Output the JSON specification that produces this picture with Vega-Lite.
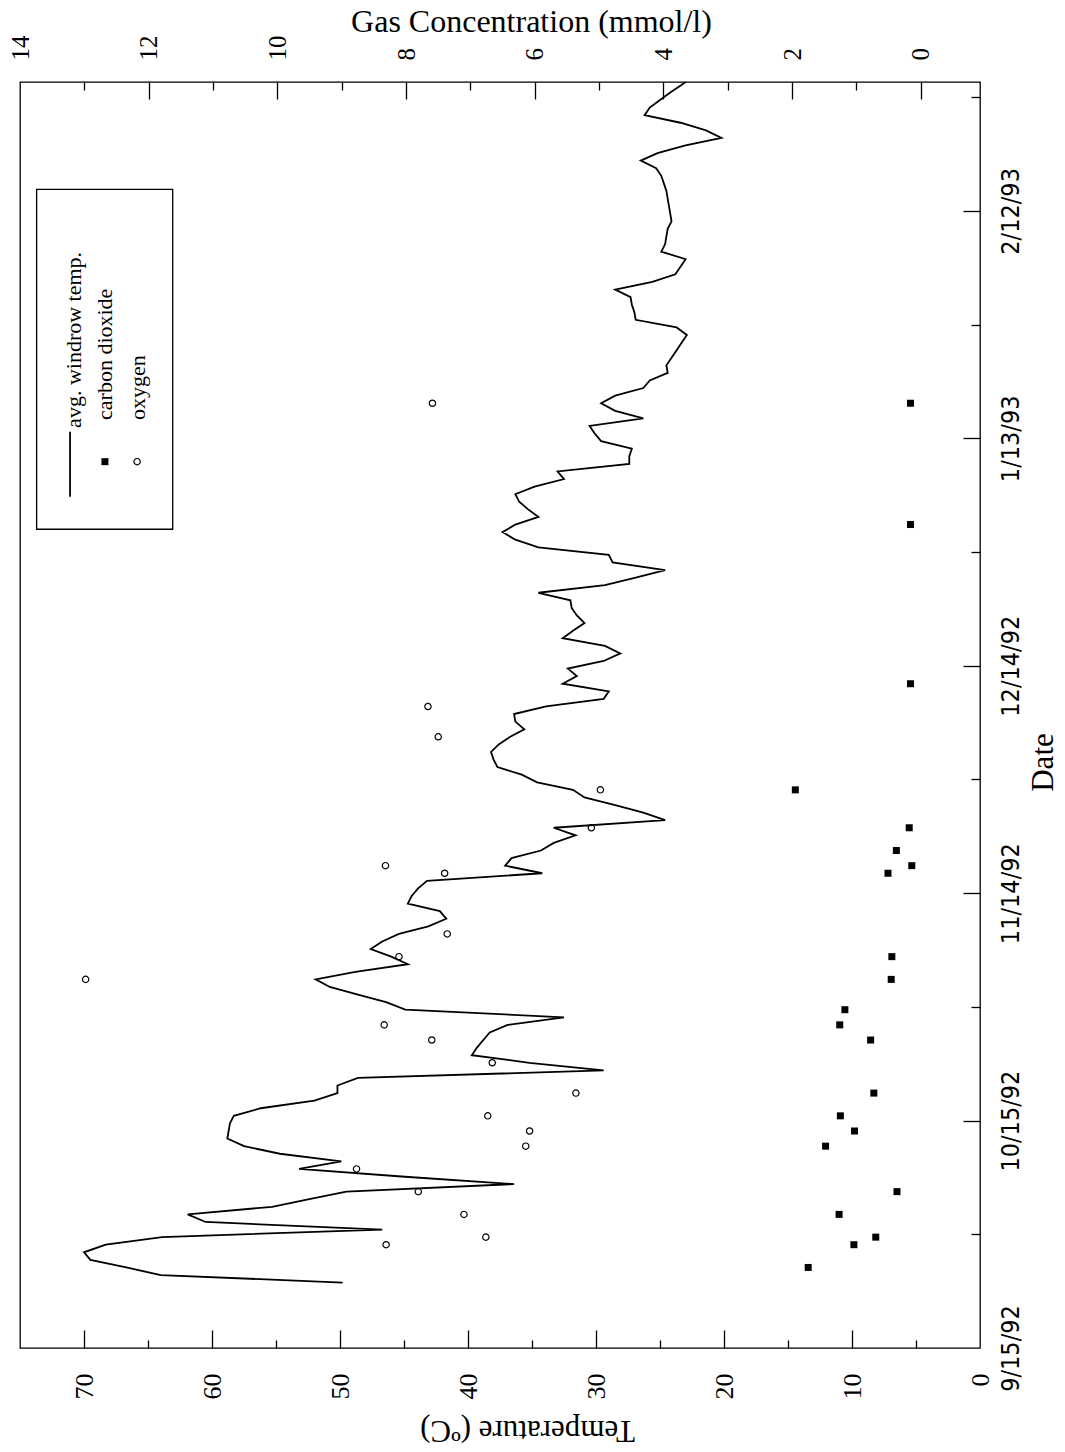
{
  "$schema": "https://vega.github.io/schema/vega-lite/v6.json",
  "width": 960,
  "height": 1266,
  "autosize": {"type": "none"},
  "padding": {"left": 20, "top": 82, "right": 85, "bottom": 104},
  "background": "white",
  "config": {
    "view": {"stroke": "black", "strokeWidth": 1.3},
    "axis": {
      "domain": false,
      "grid": false,
      "labelColor": "black",
      "tickColor": "black",
      "tickWidth": 1.3,
      "titleColor": "black",
      "titleFontWeight": "normal",
      "labelOverlap": false,
      "labelFlush": false,
      "labelBound": false
    }
  },
  "datasets": {
    "temperature": [
      {"date": "1992-09-23T15:00Z", "temp": 49.8},
      {"date": "1992-09-24T15:00Z", "temp": 64.0},
      {"date": "1992-09-25T15:00Z", "temp": 66.7},
      {"date": "1992-09-26T15:00Z", "temp": 69.5},
      {"date": "1992-09-27T15:00Z", "temp": 70.0},
      {"date": "1992-09-28T15:00Z", "temp": 68.3},
      {"date": "1992-09-29T15:00Z", "temp": 63.9},
      {"date": "1992-09-30T15:00Z", "temp": 46.7},
      {"date": "1992-10-01T15:00Z", "temp": 60.5},
      {"date": "1992-10-02T15:00Z", "temp": 61.9},
      {"date": "1992-10-03T15:00Z", "temp": 55.3},
      {"date": "1992-10-04T15:00Z", "temp": 52.4},
      {"date": "1992-10-05T15:00Z", "temp": 49.5},
      {"date": "1992-10-06T15:00Z", "temp": 36.4},
      {"date": "1992-10-07T15:00Z", "temp": 45.2},
      {"date": "1992-10-08T15:00Z", "temp": 53.2},
      {"date": "1992-10-09T15:00Z", "temp": 49.9},
      {"date": "1992-10-10T15:00Z", "temp": 54.7},
      {"date": "1992-10-11T15:00Z", "temp": 57.5},
      {"date": "1992-10-12T15:00Z", "temp": 58.8},
      {"date": "1992-10-13T15:00Z", "temp": 58.7},
      {"date": "1992-10-14T15:00Z", "temp": 58.6},
      {"date": "1992-10-15T15:00Z", "temp": 58.3},
      {"date": "1992-10-16T15:00Z", "temp": 56.2},
      {"date": "1992-10-17T15:00Z", "temp": 52.0},
      {"date": "1992-10-18T15:00Z", "temp": 50.2},
      {"date": "1992-10-19T15:00Z", "temp": 50.2},
      {"date": "1992-10-20T15:00Z", "temp": 48.6},
      {"date": "1992-10-21T15:00Z", "temp": 29.4},
      {"date": "1992-10-22T15:00Z", "temp": 35.2},
      {"date": "1992-10-23T15:00Z", "temp": 39.7},
      {"date": "1992-10-24T15:00Z", "temp": 39.3},
      {"date": "1992-10-25T15:00Z", "temp": 38.8},
      {"date": "1992-10-26T15:00Z", "temp": 38.3},
      {"date": "1992-10-27T15:00Z", "temp": 36.9},
      {"date": "1992-10-28T15:00Z", "temp": 32.5},
      {"date": "1992-10-29T15:00Z", "temp": 44.9},
      {"date": "1992-10-30T15:00Z", "temp": 46.4},
      {"date": "1992-10-31T15:00Z", "temp": 48.6},
      {"date": "1992-11-01T15:00Z", "temp": 50.8},
      {"date": "1992-11-02T15:00Z", "temp": 51.9},
      {"date": "1992-11-03T15:00Z", "temp": 48.8},
      {"date": "1992-11-04T15:00Z", "temp": 44.7},
      {"date": "1992-11-05T15:00Z", "temp": 46.0},
      {"date": "1992-11-06T15:00Z", "temp": 47.6},
      {"date": "1992-11-07T15:00Z", "temp": 46.7},
      {"date": "1992-11-08T15:00Z", "temp": 45.4},
      {"date": "1992-11-09T15:00Z", "temp": 43.1},
      {"date": "1992-11-10T15:00Z", "temp": 41.7},
      {"date": "1992-11-11T15:00Z", "temp": 42.2},
      {"date": "1992-11-12T15:00Z", "temp": 44.7},
      {"date": "1992-11-13T15:00Z", "temp": 44.4},
      {"date": "1992-11-14T15:00Z", "temp": 43.9},
      {"date": "1992-11-15T15:00Z", "temp": 43.2},
      {"date": "1992-11-16T15:00Z", "temp": 34.2},
      {"date": "1992-11-17T15:00Z", "temp": 37.1},
      {"date": "1992-11-18T15:00Z", "temp": 36.6},
      {"date": "1992-11-19T15:00Z", "temp": 34.3},
      {"date": "1992-11-20T15:00Z", "temp": 33.3},
      {"date": "1992-11-21T15:00Z", "temp": 31.6},
      {"date": "1992-11-22T15:00Z", "temp": 33.3},
      {"date": "1992-11-23T15:00Z", "temp": 24.6},
      {"date": "1992-11-24T15:00Z", "temp": 26.3},
      {"date": "1992-11-25T15:00Z", "temp": 28.5},
      {"date": "1992-11-26T15:00Z", "temp": 30.9},
      {"date": "1992-11-27T15:00Z", "temp": 31.8},
      {"date": "1992-11-28T15:00Z", "temp": 34.6},
      {"date": "1992-11-29T15:00Z", "temp": 35.8},
      {"date": "1992-11-30T15:00Z", "temp": 37.7},
      {"date": "1992-12-01T15:00Z", "temp": 38.0},
      {"date": "1992-12-02T15:00Z", "temp": 38.2},
      {"date": "1992-12-03T15:00Z", "temp": 37.6},
      {"date": "1992-12-04T15:00Z", "temp": 36.7},
      {"date": "1992-12-05T15:00Z", "temp": 35.6},
      {"date": "1992-12-06T15:00Z", "temp": 36.3},
      {"date": "1992-12-07T15:00Z", "temp": 36.4},
      {"date": "1992-12-08T15:00Z", "temp": 33.9},
      {"date": "1992-12-09T15:00Z", "temp": 29.4},
      {"date": "1992-12-10T15:00Z", "temp": 29.0},
      {"date": "1992-12-11T15:00Z", "temp": 32.6},
      {"date": "1992-12-12T15:00Z", "temp": 31.5},
      {"date": "1992-12-13T15:00Z", "temp": 32.2},
      {"date": "1992-12-14T15:00Z", "temp": 29.4},
      {"date": "1992-12-15T15:00Z", "temp": 28.1},
      {"date": "1992-12-16T15:00Z", "temp": 29.3},
      {"date": "1992-12-17T15:00Z", "temp": 32.6},
      {"date": "1992-12-18T15:00Z", "temp": 31.8},
      {"date": "1992-12-19T15:00Z", "temp": 30.9},
      {"date": "1992-12-20T15:00Z", "temp": 31.5},
      {"date": "1992-12-21T15:00Z", "temp": 31.9},
      {"date": "1992-12-22T15:00Z", "temp": 32.0},
      {"date": "1992-12-23T15:00Z", "temp": 34.5},
      {"date": "1992-12-24T15:00Z", "temp": 29.3},
      {"date": "1992-12-25T15:00Z", "temp": 26.9},
      {"date": "1992-12-26T15:00Z", "temp": 24.6},
      {"date": "1992-12-27T15:00Z", "temp": 28.7},
      {"date": "1992-12-28T15:00Z", "temp": 29.0},
      {"date": "1992-12-29T15:00Z", "temp": 34.5},
      {"date": "1992-12-30T15:00Z", "temp": 36.3},
      {"date": "1992-12-31T15:00Z", "temp": 37.3},
      {"date": "1993-01-01T15:00Z", "temp": 36.3},
      {"date": "1993-01-02T15:00Z", "temp": 34.5},
      {"date": "1993-01-03T15:00Z", "temp": 35.3},
      {"date": "1993-01-04T15:00Z", "temp": 36.0},
      {"date": "1993-01-05T15:00Z", "temp": 36.3},
      {"date": "1993-01-06T15:00Z", "temp": 34.8},
      {"date": "1993-01-07T15:00Z", "temp": 32.5},
      {"date": "1993-01-08T15:00Z", "temp": 33.0},
      {"date": "1993-01-09T15:00Z", "temp": 27.4},
      {"date": "1993-01-10T15:00Z", "temp": 27.4},
      {"date": "1993-01-11T15:00Z", "temp": 27.2},
      {"date": "1993-01-12T15:00Z", "temp": 29.6},
      {"date": "1993-01-13T15:00Z", "temp": 30.1},
      {"date": "1993-01-14T15:00Z", "temp": 30.5},
      {"date": "1993-01-15T15:00Z", "temp": 26.3},
      {"date": "1993-01-16T15:00Z", "temp": 28.5},
      {"date": "1993-01-17T15:00Z", "temp": 29.6},
      {"date": "1993-01-18T15:00Z", "temp": 28.5},
      {"date": "1993-01-19T15:00Z", "temp": 26.3},
      {"date": "1993-01-20T15:00Z", "temp": 25.8},
      {"date": "1993-01-21T15:00Z", "temp": 24.4},
      {"date": "1993-01-22T15:00Z", "temp": 24.5},
      {"date": "1993-01-23T15:00Z", "temp": 24.1},
      {"date": "1993-01-24T15:00Z", "temp": 23.7},
      {"date": "1993-01-25T15:00Z", "temp": 23.3},
      {"date": "1993-01-26T15:00Z", "temp": 22.9},
      {"date": "1993-01-27T15:00Z", "temp": 23.7},
      {"date": "1993-01-28T15:00Z", "temp": 26.9},
      {"date": "1993-01-29T15:00Z", "temp": 27.0},
      {"date": "1993-01-30T15:00Z", "temp": 27.2},
      {"date": "1993-01-31T15:00Z", "temp": 27.3},
      {"date": "1993-02-01T15:00Z", "temp": 28.5},
      {"date": "1993-02-02T15:00Z", "temp": 25.6},
      {"date": "1993-02-03T15:00Z", "temp": 23.8},
      {"date": "1993-02-04T15:00Z", "temp": 23.4},
      {"date": "1993-02-05T15:00Z", "temp": 23.0},
      {"date": "1993-02-06T15:00Z", "temp": 24.9},
      {"date": "1993-02-07T15:00Z", "temp": 24.6},
      {"date": "1993-02-08T15:00Z", "temp": 24.5},
      {"date": "1993-02-09T15:00Z", "temp": 24.4},
      {"date": "1993-02-10T15:00Z", "temp": 24.1},
      {"date": "1993-02-11T15:00Z", "temp": 24.2},
      {"date": "1993-02-12T15:00Z", "temp": 24.3},
      {"date": "1993-02-13T15:00Z", "temp": 24.4},
      {"date": "1993-02-14T15:00Z", "temp": 24.5},
      {"date": "1993-02-15T15:00Z", "temp": 24.7},
      {"date": "1993-02-16T15:00Z", "temp": 24.9},
      {"date": "1993-02-17T15:00Z", "temp": 25.3},
      {"date": "1993-02-18T15:00Z", "temp": 26.5},
      {"date": "1993-02-19T15:00Z", "temp": 25.2},
      {"date": "1993-02-20T15:00Z", "temp": 23.0},
      {"date": "1993-02-21T15:00Z", "temp": 20.2},
      {"date": "1993-02-22T15:00Z", "temp": 21.4},
      {"date": "1993-02-23T15:00Z", "temp": 23.4},
      {"date": "1993-02-24T15:00Z", "temp": 26.2},
      {"date": "1993-02-25T15:00Z", "temp": 25.8},
      {"date": "1993-02-26T15:00Z", "temp": 25.0},
      {"date": "1993-02-27T15:00Z", "temp": 24.2},
      {"date": "1993-02-28T15:00Z", "temp": 23.3},
      {"date": "1993-03-01T15:00Z", "temp": 22.5}
    ],
    "gas": [
      {"date": "1992-09-25T15:00Z", "co2": 1.75, "o2": null},
      {"date": "1992-09-28T15:00Z", "co2": 1.04, "o2": 8.31},
      {"date": "1992-09-29T15:00Z", "co2": 0.70, "o2": 6.76},
      {"date": "1992-10-02T15:00Z", "co2": 1.27, "o2": 7.10},
      {"date": "1992-10-05T15:00Z", "co2": 0.37, "o2": 7.81},
      {"date": "1992-10-08T15:00Z", "co2": null, "o2": 8.77},
      {"date": "1992-10-11T15:00Z", "co2": 1.48, "o2": 6.14},
      {"date": "1992-10-13T15:00Z", "co2": 1.03, "o2": 6.08},
      {"date": "1992-10-15T15:00Z", "co2": 1.25, "o2": 6.73},
      {"date": "1992-10-18T15:00Z", "co2": 0.73, "o2": 5.36},
      {"date": "1992-10-22T15:00Z", "co2": null, "o2": 6.66},
      {"date": "1992-10-25T15:00Z", "co2": 0.78, "o2": 7.60},
      {"date": "1992-10-27T15:00Z", "co2": 1.26, "o2": 8.34},
      {"date": "1992-10-29T15:00Z", "co2": 1.18, "o2": null},
      {"date": "1992-11-02T15:00Z", "co2": 0.46, "o2": 12.98},
      {"date": "1992-11-05T15:00Z", "co2": 0.45, "o2": 8.11},
      {"date": "1992-11-08T15:00Z", "co2": null, "o2": 7.36},
      {"date": "1992-11-16T15:00Z", "co2": 0.51, "o2": 7.40},
      {"date": "1992-11-17T15:00Z", "co2": 0.14, "o2": 8.32},
      {"date": "1992-11-19T15:00Z", "co2": 0.38, "o2": null},
      {"date": "1992-11-22T15:00Z", "co2": 0.18, "o2": 5.12},
      {"date": "1992-11-27T15:00Z", "co2": 1.95, "o2": 4.98},
      {"date": "1992-12-04T15:00Z", "co2": null, "o2": 7.50},
      {"date": "1992-12-08T15:00Z", "co2": null, "o2": 7.66},
      {"date": "1992-12-11T15:00Z", "co2": 0.16, "o2": null},
      {"date": "1993-01-01T15:00Z", "co2": 0.16, "o2": null},
      {"date": "1993-01-17T15:00Z", "co2": 0.16, "o2": 7.59}
    ]
  },
  "resolve": {
    "scale": {"x": "independent", "y": "independent"},
    "axis": {"x": "independent", "y": "independent"}
  },
  "layer": [
    {
      "data": {"name": "temperature"},
      "mark": {"type": "line", "color": "black", "strokeWidth": 1.8, "clip": true},
      "encoding": {
        "x": {
          "field": "temp", "type": "quantitative",
          "scale": {"domain": [0, 75], "reverse": true, "nice": false, "zero": false},
          "axis": {
            "orient": "bottom",
            "values": [0, 10, 20, 30, 40, 50, 60, 70],
            "ticks": false,
            "labelAngle": 270, "labelAlign": "right", "labelBaseline": "middle",
            "labelPadding": 25,
            "labelFont": "Liberation Serif", "labelFontSize": 26,
            "title": "Temperature (ºC)",
            "titleFont": "Liberation Serif", "titleFontSize": 31,
            "titleAngle": 180, "titleAlign": "center", "titleBaseline": "alphabetic",
            "titleX": 507, "titleY": 72
          }
        },
        "y": {
          "field": "date", "type": "temporal",
          "scale": {"type": "utc", "nice": false, "domain": [{"year": 1992, "month": 9, "date": 15, "utc": true}, {"year": 1993, "month": 3, "date": 1, "utc": true}]},
          "axis": {
            "orient": "right",
            "values": [
              {"year": 1992, "month": 9, "date": 15, "utc": true},
              {"year": 1992, "month": 10, "date": 15, "utc": true},
              {"year": 1992, "month": 11, "date": 14, "utc": true},
              {"year": 1992, "month": 12, "date": 14, "utc": true},
              {"year": 1993, "month": 1, "date": 13, "utc": true},
              {"year": 1993, "month": 2, "date": 12, "utc": true}
            ],
            "labelExpr": "utcFormat(datum.value, '%-m/%-d/%y')",
            "ticks": false,
            "labelAngle": 270, "labelAlign": "center", "labelBaseline": "top",
            "labelPadding": 18,
            "labelFont": "Liberation Sans Narrow, DejaVu Sans Condensed, Liberation Sans",
            "labelFontSize": 25,
            "title": "Date",
            "titleFont": "Liberation Serif", "titleFontSize": 31,
            "titleAngle": 270, "titleAlign": "center", "titleBaseline": "alphabetic",
            "titleX": 72, "titleY": 680
          }
        },
        "order": {"value": null}
      }
    },
    {
      "data": {"name": "gas"},
      "mark": {"type": "point", "shape": "square", "filled": true, "color": "black", "size": 49, "opacity": 1},
      "encoding": {
        "x": {
          "field": "co2", "type": "quantitative",
          "scale": {"domain": [-0.92, 14], "reverse": true, "nice": false, "zero": false},
          "axis": {
            "orient": "top",
            "values": [0, 2, 4, 6, 8, 10, 12, 14],
            "ticks": false,
            "labelAngle": 270, "labelAlign": "left", "labelBaseline": "middle",
            "labelPadding": 22,
            "labelFont": "Liberation Serif", "labelFontSize": 25,
            "title": "Gas Concentration (mmol/l)",
            "titleFont": "Liberation Serif", "titleFontSize": 32,
            "titleAngle": 0, "titleAlign": "center", "titleBaseline": "alphabetic",
            "titleX": 511, "titleY": -51
          }
        },
        "y": {
          "field": "date", "type": "temporal",
          "scale": {"type": "utc", "nice": false, "domain": [{"year": 1992, "month": 9, "date": 15, "utc": true}, {"year": 1993, "month": 3, "date": 1, "utc": true}]},
          "axis": {
            "orient": "right",
            "values": [
              {"year": 1992, "month": 10, "date": 15, "utc": true},
              {"year": 1992, "month": 11, "date": 14, "utc": true},
              {"year": 1992, "month": 12, "date": 14, "utc": true},
              {"year": 1993, "month": 1, "date": 13, "utc": true},
              {"year": 1993, "month": 2, "date": 12, "utc": true}
            ],
            "labels": false, "ticks": true, "tickSize": -17, "title": null
          }
        }
      }
    },
    {
      "data": {"name": "gas"},
      "mark": {"type": "point", "shape": "circle", "filled": false, "color": "black", "size": 40, "strokeWidth": 1.2, "opacity": 1},
      "encoding": {
        "x": {
          "field": "o2", "type": "quantitative",
          "scale": {"domain": [-0.92, 14], "reverse": true, "nice": false, "zero": false},
          "axis": {
            "orient": "top",
            "values": [0, 2, 4, 6, 8, 10, 12],
            "labels": false, "ticks": true, "tickSize": -17, "title": null
          }
        },
        "y": {
          "field": "date", "type": "temporal",
          "scale": {"type": "utc", "nice": false, "domain": [{"year": 1992, "month": 9, "date": 15, "utc": true}, {"year": 1993, "month": 3, "date": 1, "utc": true}]},
          "axis": {
            "orient": "right",
            "values": [
              {"year": 1992, "month": 9, "date": 30, "utc": true},
              {"year": 1992, "month": 10, "date": 30, "utc": true},
              {"year": 1992, "month": 11, "date": 29, "utc": true},
              {"year": 1992, "month": 12, "date": 29, "utc": true},
              {"year": 1993, "month": 1, "date": 28, "utc": true},
              {"year": 1993, "month": 2, "date": 27, "utc": true}
            ],
            "labels": false, "ticks": true, "tickSize": -9, "title": null
          }
        }
      }
    },
    {
      "data": {"values": [{}]},
      "mark": {"type": "rect", "fill": "white", "stroke": "black", "strokeWidth": 1.3},
      "encoding": {
        "x": {
          "datum": 73.7, "type": "quantitative",
          "scale": {"domain": [0, 75], "reverse": true, "nice": false, "zero": false},
          "axis": {
            "orient": "bottom",
            "values": [10, 20, 30, 40, 50, 60, 70],
            "labels": false, "ticks": true, "tickSize": -18, "title": null
          }
        },
        "x2": {"datum": 63.07},
        "y": {
          "datum": {"year": 1993, "month": 2, "date": 14, "hours": 20, "utc": true}, "type": "temporal",
          "scale": {"type": "utc", "nice": false, "domain": [{"year": 1992, "month": 9, "date": 15, "utc": true}, {"year": 1993, "month": 3, "date": 1, "utc": true}]},
          "axis": null
        },
        "y2": {"datum": {"year": 1993, "month": 1, "date": 1, "utc": true}}
      }
    },
    {
      "data": {"values": [{}]},
      "mark": {"type": "rule", "color": "black", "strokeWidth": 1.8},
      "encoding": {
        "x": {
          "datum": 71.09, "type": "quantitative",
          "scale": {"domain": [0, 75], "reverse": true, "nice": false, "zero": false},
          "axis": {
            "orient": "bottom",
            "values": [5, 15, 25, 35, 45, 55, 65],
            "labels": false, "ticks": true, "tickSize": -8, "title": null
          }
        },
        "y": {
          "datum": {"year": 1993, "month": 1, "date": 13, "hours": 21, "utc": true}, "type": "temporal",
          "scale": {"type": "utc", "nice": false, "domain": [{"year": 1992, "month": 9, "date": 15, "utc": true}, {"year": 1993, "month": 3, "date": 1, "utc": true}]},
          "axis": null
        },
        "y2": {"datum": {"year": 1993, "month": 1, "date": 5, "hours": 7, "utc": true}}
      }
    },
    {
      "data": {"values": [{}]},
      "mark": {"type": "point", "shape": "square", "filled": true, "color": "black", "size": 49, "opacity": 1},
      "encoding": {
        "x": {
          "datum": 12.68, "type": "quantitative",
          "scale": {"domain": [-0.92, 14], "reverse": true, "nice": false, "zero": false},
          "axis": {
            "orient": "top",
            "values": [1, 3, 5, 7, 9, 11, 13],
            "labels": false, "ticks": true, "tickSize": -8, "title": null
          }
        },
        "y": {
          "datum": {"year": 1993, "month": 1, "date": 9, "hours": 22, "utc": true}, "type": "temporal",
          "scale": {"type": "utc", "nice": false, "domain": [{"year": 1992, "month": 9, "date": 15, "utc": true}, {"year": 1993, "month": 3, "date": 1, "utc": true}]},
          "axis": null
        }
      }
    },
    {
      "data": {"values": [{}]},
      "mark": {"type": "point", "shape": "circle", "filled": false, "color": "black", "size": 40, "strokeWidth": 1.2, "opacity": 1},
      "encoding": {
        "x": {
          "datum": 12.18, "type": "quantitative",
          "scale": {"domain": [-0.92, 14], "reverse": true, "nice": false, "zero": false},
          "axis": null
        },
        "y": {
          "datum": {"year": 1993, "month": 1, "date": 9, "hours": 22, "utc": true}, "type": "temporal",
          "scale": {"type": "utc", "nice": false, "domain": [{"year": 1992, "month": 9, "date": 15, "utc": true}, {"year": 1993, "month": 3, "date": 1, "utc": true}]},
          "axis": null
        }
      }
    },
    {
      "data": {"values": [{}]},
      "mark": {"type": "text", "angle": 270, "align": "left", "baseline": "alphabetic", "font": "Liberation Serif", "fontSize": 22, "color": "black"},
      "encoding": {
        "x": {
          "datum": 70.23, "type": "quantitative",
          "scale": {"domain": [0, 75], "reverse": true, "nice": false, "zero": false},
          "axis": null
        },
        "y": {
          "datum": {"year": 1993, "month": 1, "date": 14, "hours": 9, "utc": true}, "type": "temporal",
          "scale": {"type": "utc", "nice": false, "domain": [{"year": 1992, "month": 9, "date": 15, "utc": true}, {"year": 1993, "month": 3, "date": 1, "utc": true}]},
          "axis": null
        },
        "text": {"value": "avg. windrow temp."}
      }
    },
    {
      "data": {"values": [{}]},
      "mark": {"type": "text", "angle": 270, "align": "left", "baseline": "alphabetic", "font": "Liberation Serif", "fontSize": 22, "color": "black"},
      "encoding": {
        "x": {
          "datum": 67.81, "type": "quantitative",
          "scale": {"domain": [0, 75], "reverse": true, "nice": false, "zero": false},
          "axis": null
        },
        "y": {
          "datum": {"year": 1993, "month": 1, "date": 15, "hours": 10, "utc": true}, "type": "temporal",
          "scale": {"type": "utc", "nice": false, "domain": [{"year": 1992, "month": 9, "date": 15, "utc": true}, {"year": 1993, "month": 3, "date": 1, "utc": true}]},
          "axis": null
        },
        "text": {"value": "carbon dioxide"}
      }
    },
    {
      "data": {"values": [{}]},
      "mark": {"type": "text", "angle": 270, "align": "left", "baseline": "alphabetic", "font": "Liberation Serif", "fontSize": 22, "color": "black"},
      "encoding": {
        "x": {
          "datum": 65.23, "type": "quantitative",
          "scale": {"domain": [0, 75], "reverse": true, "nice": false, "zero": false},
          "axis": null
        },
        "y": {
          "datum": {"year": 1993, "month": 1, "date": 15, "hours": 10, "utc": true}, "type": "temporal",
          "scale": {"type": "utc", "nice": false, "domain": [{"year": 1992, "month": 9, "date": 15, "utc": true}, {"year": 1993, "month": 3, "date": 1, "utc": true}]},
          "axis": null
        },
        "text": {"value": "oxygen"}
      }
    }
  ]
}
